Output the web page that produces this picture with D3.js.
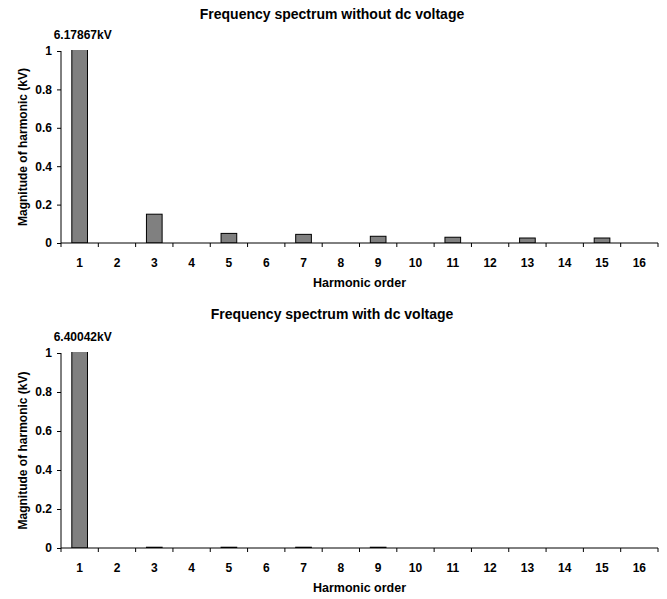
<!doctype html>
<html lang="en">
<head>
  <meta charset="utf-8">
  <title>Frequency spectrum</title>
  <style>
    body { margin: 0; background: #fff; }
    text { font-family: "Liberation Sans", Arial, sans-serif; font-weight: bold; fill: #000; }
  </style>
</head>
<body>
  <script src="https://cdn.jsdelivr.net/npm/d3@7"></script>
  <script>
    // Data
    const harmonics = [1, 2, 3, 4, 5, 6, 7, 8, 9, 10, 11, 12, 13, 14, 15, 16];
    const withoutDc = [6.17867, 0, 0.15, 0, 0.05, 0, 0.045, 0, 0.035, 0, 0.03, 0, 0.026, 0, 0.026, 0];
    const withDc = [6.40042, 0, 0.004, 0, 0.004, 0, 0.004, 0, 0.004, 0, 0, 0, 0, 0, 0, 0];
    const yTicks = [0, 0.2, 0.4, 0.6, 0.8, 1];
    const titles = ['Frequency spectrum without dc voltage', 'Frequency spectrum with dc voltage'];
    const peakLabels = ['6.17867kV', '6.40042kV'];

    const w = 667;
    const h = 599;

    const svg = d3.select('body')
                  .append('svg')
                  .attr('width', w)
                  .attr('height', h);

    // Draw one panel
    function drawPanel(top, plotH, titleY, values, title, peakLabel, idx) {
      const left = 61;
      const right = 658;

      const g = svg.append('g').attr('transform', `translate(0, ${top})`);

      const xScale = d3.scaleBand()
                       .domain(harmonics)
                       .range([left, right])
                       .paddingInner(0)
                       .paddingOuter(0);

      const yScale = d3.scaleLinear()
                       .domain([0, 1])
                       .range([plotH, 0]);

      // Clip bars slightly above the top tick, like the original
      g.append('clipPath')
       .attr('id', 'clip' + idx)
       .append('rect')
       .attr('x', left)
       .attr('y', -1)
       .attr('width', right - left)
       .attr('height', plotH + 1);

      // Title
      g.append('text')
       .attr('x', 332)
       .attr('y', titleY)
       .attr('text-anchor', 'middle')
       .style('font-size', '14px')
       .text(title);

      // Peak value label
      g.append('text')
       .attr('x', xScale(harmonics[0]) + xScale.bandwidth() / 2 + 3)
       .attr('y', -12.5)
       .attr('text-anchor', 'middle')
       .style('font-size', '12px')
       .text(peakLabel);

      // Bars
      const barW = xScale.bandwidth() * 0.42;
      g.append('g')
       .attr('clip-path', `url(#clip${idx})`)
       .selectAll('rect')
       .data(harmonics.map((k, i) => ({ k, v: values[i] })).filter((d) => d.v > 0))
       .enter()
       .append('rect')
       .attr('x', (d) => xScale(d.k) + (xScale.bandwidth() - barW) / 2)
       .attr('y', (d) => yScale(d.v))
       .attr('width', barW)
       .attr('height', (d) => plotH - yScale(d.v))
       .attr('fill', '#808080')
       .attr('stroke', '#000')
       .attr('stroke-width', 1);

      // Y axis
      const yAxis = d3.axisLeft(yScale)
                      .tickValues(yTicks)
                      .tickFormat((d) => d)
                      .tickSize(4)
                      .tickPadding(5);
      const ya = g.append('g')
                  .attr('transform', `translate(${left}, 0)`)
                  .call(yAxis);
      ya.select('.domain').attr('d', `M0,0V${plotH}`).attr('stroke', '#000');
      ya.selectAll('text')
        .style('font-size', '12px')
        .style('font-family', '"Liberation Sans", Arial, sans-serif')
        .style('font-weight', 'bold');

      // X axis: ticks at category boundaries
      const xa = g.append('g')
                  .attr('transform', `translate(0, ${plotH})`);
      xa.append('line')
        .attr('x1', left).attr('x2', right)
        .attr('stroke', '#000');
      xa.selectAll('line.tick')
        .data(harmonics.concat([null]))
        .enter()
        .append('line')
        .attr('class', 'tick')
        .attr('x1', (d, i) => left + i * xScale.bandwidth())
        .attr('x2', (d, i) => left + i * xScale.bandwidth())
        .attr('y1', 0)
        .attr('y2', 4)
        .attr('stroke', '#000');
      xa.selectAll('text')
        .data(harmonics)
        .enter()
        .append('text')
        .attr('x', (d) => xScale(d) + xScale.bandwidth() / 2)
        .attr('y', 23.5)
        .attr('text-anchor', 'middle')
        .style('font-size', '12px')
        .text((d) => d);

      // Axis titles
      g.append('text')
       .attr('x', 359.5)
       .attr('y', plotH + 44)
       .attr('text-anchor', 'middle')
       .style('font-size', '12.5px')
       .text('Harmonic order');

      g.append('text')
       .attr('transform', `translate(27, ${plotH / 2}) rotate(-90)`)
       .attr('text-anchor', 'middle')
       .style('font-size', '12px')
       .text('Magnitude of harmonic (kV)');
    }

    drawPanel(51, 192, -32.5, withoutDc, titles[0], peakLabels[0], 0);
    drawPanel(353, 195, -34.5, withDc, titles[1], peakLabels[1], 1);
  </script>
</body>
</html>
